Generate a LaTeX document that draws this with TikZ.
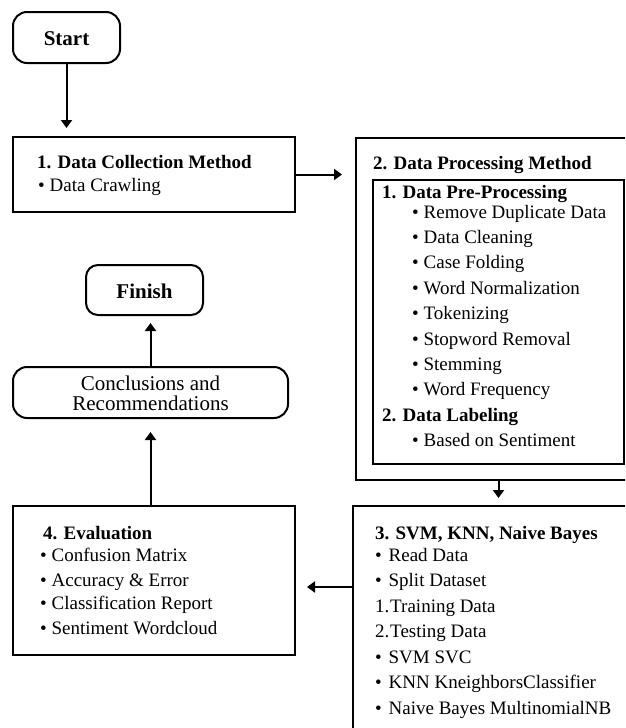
\documentclass[tikz,border=0pt]{standalone}
\usepackage{fontspec}
\setmainfont{Liberation Serif}
\usetikzlibrary{arrows.meta}
\newcommand{\fs}{\fontsize{19}{23}\selectfont}
\newcommand{\fb}{\fontsize{21}{25}\selectfont}
\tikzset{
  box/.style={draw, line width=2pt, inner sep=0pt, outer sep=0pt},
  rbox/.style={box, rounded corners=14pt},
  txt/.style={inner sep=0pt, outer sep=0pt, font=\fs, anchor=base west},
  arr/.style={line width=2pt, -{Triangle[length=8pt,width=11pt]}},
}
\begin{document}
\begin{tikzpicture}[x=1pt,y=-1pt]
\useasboundingbox (0,0) rectangle (625,728);
\clip (0,0) rectangle (625,728);
% boxes
\node[rbox, minimum width=107pt, minimum height=51pt] (start) at (66.5,37.5) {};
\node[box, minimum width=282pt, minimum height=75pt] (box1) at (154,174.5) {};
\node[box, minimum width=289pt, minimum height=342pt] (box2) at (500.5,309) {};
\node[box, minimum width=251pt, minimum height=284pt] (inner) at (498.5,322) {};
\node[box, minimum width=292pt, minimum height=244pt] (box3) at (499,628) {};
\node[box, minimum width=282pt, minimum height=149pt] (eval) at (154,580.5) {};
\node[rbox, minimum width=275pt, minimum height=51pt] (concl) at (150.5,392.5) {};
\node[rbox, rounded corners=12pt, minimum width=117pt, minimum height=50pt] (finish) at (144.5,290) {};
% texts
\node[txt, font=\fb\bfseries, anchor=base] (tstart) at (start.center |- 0,45) {Start};
\node[txt, font=\fb\bfseries, anchor=base] (tfinish) at (finish.center |- 0,298) {Finish};
\node[txt, font=\fontsize{21}{20}\selectfont, anchor=base] (tconcla) at (concl.center |- 0,390) {Conclusions and};
\node[txt, font=\fontsize{21}{20}\selectfont, anchor=base] (tconclb) at (concl.center |- 0,410) {Recommendations};

\node[txt] (b1a) at (37,168) {\bfseries 1. Data Collection Method};
\node[txt] (b1b) at (38,191) {\textbullet\hspace{5pt}Data Crawling};

\node[txt] (b2t) at (373,169) {\bfseries 2. Data Processing Method};
\node[txt] (b2a) at (382,198) {\bfseries 1. Data Pre-Processing};
\node[txt] (b2b) at (412,218) {\textbullet\hspace{5pt}Remove Duplicate Data};
\node[txt] (b2c) at (412,243.4) {\textbullet\hspace{5pt}Data Cleaning};
\node[txt] (b2d) at (412,268.8) {\textbullet\hspace{5pt}Case Folding};
\node[txt] (b2e) at (412,294.2) {\textbullet\hspace{5pt}Word Normalization};
\node[txt] (b2f) at (412,319.6) {\textbullet\hspace{5pt}Tokenizing};
\node[txt] (b2g) at (412,345) {\textbullet\hspace{5pt}Stopword Removal};
\node[txt] (b2h) at (412,370.4) {\textbullet\hspace{5pt}Stemming};
\node[txt] (b2i) at (412,395.8) {\textbullet\hspace{5pt}Word Frequency};
\node[txt] (b2j) at (382,421.2) {\bfseries 2. Data Labeling};
\node[txt] (b2k) at (412,446.6) {\textbullet\hspace{5pt}Based on Sentiment};

\node[txt] (b3t) at (375,539) {\bfseries 3. SVM, KNN, Naive Bayes};
\node[txt] (b3a) at (375,561) {\textbullet\hspace{7pt}Read Data};
\node[txt] (b3b) at (375,586.5) {\textbullet\hspace{7pt}Split Dataset};
\node[txt] (b3c) at (375,612) {1.\hspace{1pt}Training Data};
\node[txt] (b3d) at (375,637.5) {2.\hspace{1pt}Testing Data};
\node[txt] (b3e) at (375,663) {\textbullet\hspace{7pt}SVM SVC};
\node[txt] (b3f) at (375,688.5) {\textbullet\hspace{7pt}KNN KneighborsClassifier};
\node[txt] (b3g) at (375,714) {\textbullet\hspace{7pt}Naive Bayes MultinomialNB};

\node[txt] (b4t) at (43,539) {\bfseries 4. Evaluation};
\node[txt] (b4a) at (40,561) {\textbullet\hspace{5pt}Confusion Matrix};
\node[txt] (b4b) at (40,586) {\textbullet\hspace{5pt}Accuracy \& Error};
\node[txt] (b4c) at (40,609.5) {\textbullet\hspace{5pt}Classification Report};
\node[txt] (b4d) at (40,634) {\textbullet\hspace{5pt}Sentiment Wordcloud};

% connectors
\draw[arr, shorten >=9pt] (start.south) -- (start.south |- box1.north);
\draw[arr, shorten >=14pt] (box1.east) -- (box1.east -| box2.west);
\draw[arr, shorten >=8pt] (inner.center |- box2.south) -- (inner.center |- box3.north);
\coordinate (p3) at ([yshift=-81pt]box3.north west);
\draw[arr, shorten >=12pt] (p3) -- (p3 -| eval.east);
\draw[arr, shorten >=14pt] (concl.center |- eval.north) -- (concl.south);
\draw[arr, shorten >=8pt] (concl.north) -- (concl.north |- finish.south);
\end{tikzpicture}
\end{document}
